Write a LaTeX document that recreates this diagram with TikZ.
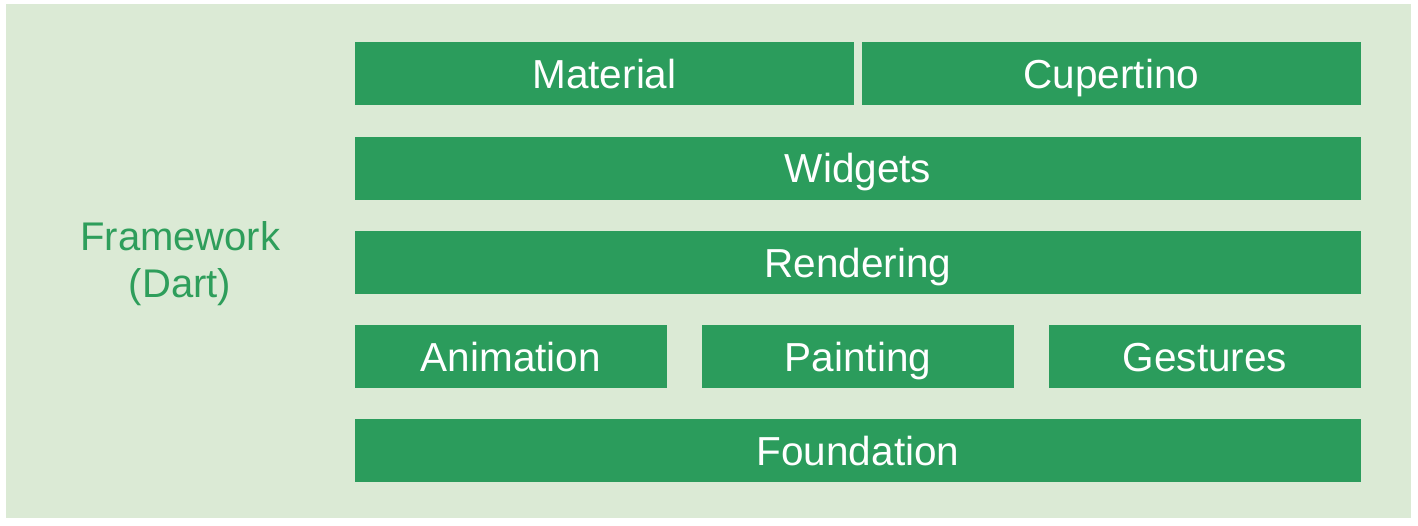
\documentclass[tikz,border=0pt]{standalone}
\usepackage{fontspec}
\setmainfont{Liberation Sans}
\definecolor{bgpale}{HTML}{DBEAD5}
\definecolor{boxgreen}{HTML}{2B9C5C}
\definecolor{labelgreen}{HTML}{2E9E5B}
\tikzset{
  layerbox/.style={fill=boxgreen, draw=none, inner sep=0pt, minimum height=63pt,
    text=white, font=\fontsize{40.5}{48}\selectfont, text height=29pt, text depth=0pt},
  sidelabel/.style={text=labelgreen, font=\fontsize{40}{47}\selectfont, inner sep=0pt, anchor=base}
}
\begin{document}
\begin{tikzpicture}[x=1pt,y=-1pt]
\useasboundingbox (0,0) rectangle (1418,525);
\fill[white] (0,0) rectangle (1418,525);
\fill[bgpale] (6,4) rectangle (1411,518);
\node[layerbox, minimum width=499pt] (material) at (604.5,73.5) {Material};
\node[layerbox, minimum width=499pt] (cupertino) at (1111.5,73.5) {Cupertino};
\node[layerbox, minimum width=1006pt] (widgets) at (858,168) {Widgets};
\node[layerbox, minimum width=1006pt] (rendering) at (858,262.5) {Rendering};
\node[layerbox, minimum width=312pt] (animation) at (511,356.5) {Animation};
\node[layerbox, minimum width=312pt] (painting) at (858,356.5) {Painting};
\node[layerbox, minimum width=312pt] (gestures) at (1205,356.5) {Gestures};
\node[layerbox, minimum width=1006pt] (foundation) at (858,450.5) {Foundation};
\node[sidelabel] (fw) at (180.3,250) {Framework};
\node[sidelabel] (dart) at (180,297) {(Dart)};
\end{tikzpicture}
\end{document}
